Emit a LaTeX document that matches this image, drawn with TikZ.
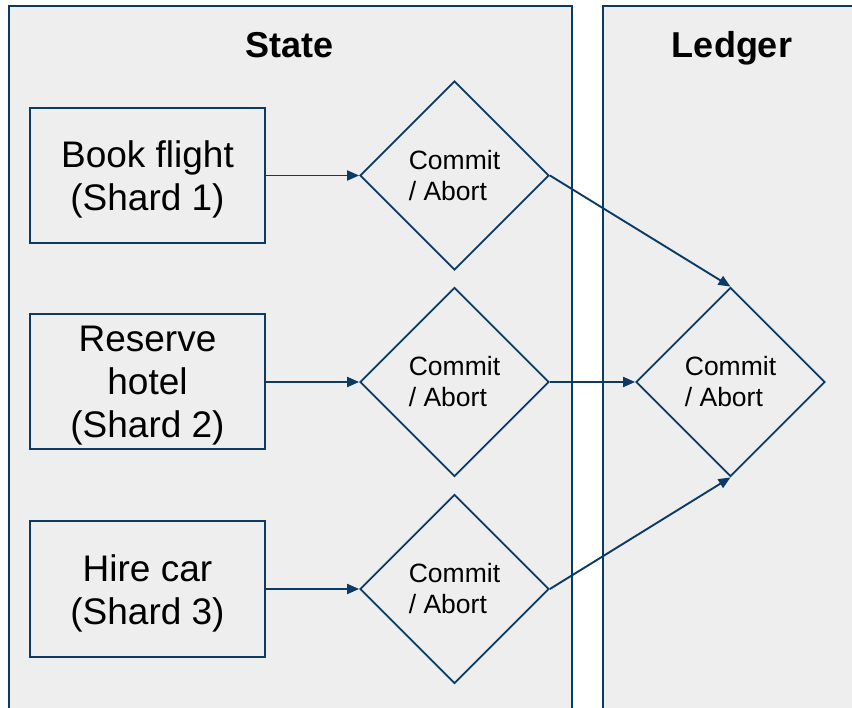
\documentclass[tikz,border=0pt]{standalone}
\usepackage{fontspec}
\setmainfont{Liberation Sans}
\usetikzlibrary{shapes.geometric,arrows.meta}
\definecolor{navy}{HTML}{0B3A66}
\definecolor{panelgray}{HTML}{EEEEEE}
\begin{document}
\begin{tikzpicture}[x=1pt,y=-1pt,
  panelbox/.style={draw=navy,fill=panelgray,line width=2pt,anchor=north west,inner sep=0pt},
  taskbox/.style={draw=navy,line width=2pt,minimum width=235pt,minimum height=135pt,inner sep=0pt},
  tasktext/.style={align=center,inner sep=0pt,font=\fontsize{37}{43}\selectfont},
  decision/.style={diamond,draw=navy,line width=1.8pt,minimum width=189pt,minimum height=189pt,inner sep=0pt,align=left,font=\fontsize{26.5}{31}\selectfont},
  paneltitle/.style={anchor=base,font=\fontsize{36}{40}\selectfont\bfseries},
  flow/.style={draw=navy,line width=1.9pt,-{Triangle[length=12pt,width=10pt]}}
]
\fill[white] (0,0) rectangle (852,708);
\useasboundingbox (0,0) rectangle (852,708);
\begin{scope}
\clip (0,0) rectangle (852,708);
\node[panelbox,minimum width=563pt,minimum height=720pt] (state) at (8,5) {};
\node[panelbox,minimum width=270pt,minimum height=720pt] (ledger) at (602,5) {};
\end{scope}
\node[paneltitle] (statet) at (289.5,58) {State};
\node[paneltitle] (ledgert) at (732,58) {Ledger};

\node[taskbox] (b1) at (147.5,175.5) {};
\node[taskbox] (b2) at (147.5,382) {};
\node[taskbox] (b3) at (147.5,589) {};
\node[tasktext] (t1) at ([yshift=-4pt]b1.center) {Book flight\\(Shard 1)};
\node[tasktext] (t2) at ([yshift=-4pt]b2.center) {Reserve\\hotel\\(Shard 2)};
\node[tasktext] (t3) at ([yshift=-4pt]b3.center) {Hire car\\(Shard 3)};

\node[decision] (d1) at (454.5,175.5) {Commit\\/ Abort};
\node[decision] (d2) at (454.5,382) {Commit\\/ Abort};
\node[decision] (d3) at (454.5,589) {Commit\\/ Abort};
\node[decision] (dl) at (730.5,382) {Commit\\/ Abort};

\draw[flow] (b1.east) -- (d1.west);
\draw[flow] (b2.east) -- (d2.west);
\draw[flow] (b3.east) -- (d3.west);
\draw[flow] (d1.east) -- (dl.north);
\draw[flow] (d2.east) -- (dl.west);
\draw[flow] (d3.east) -- (dl.south);
\end{tikzpicture}
\end{document}
